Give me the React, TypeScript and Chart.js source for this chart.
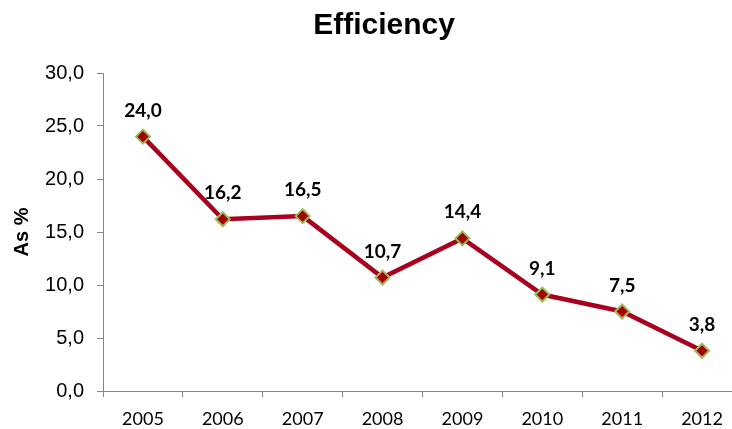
import React, { useEffect, useRef } from "react";
import { Chart, registerables } from "chart.js";

Chart.register(...registerables);

const years = ["2005", "2006", "2007", "2008", "2009", "2010", "2011", "2012"];
const efficiency = [24.0, 16.2, 16.5, 10.7, 14.4, 9.1, 7.5, 3.8];
const yTicks = [0, 5, 10, 15, 20, 25, 30];

const fmt = (v: number) => v.toFixed(1).replace(".", ",");

const valueLabels = {
  id: "valueLabels",
  afterDatasetsDraw(chart: any) {
    const ctx = chart.ctx;
    const meta = chart.getDatasetMeta(0);
    const data = chart.data.datasets[0].data as number[];
    ctx.save();
    ctx.font = "bold 19px Lato";
    ctx.fillStyle = "#000";
    ctx.textAlign = "center";
    ctx.textBaseline = "alphabetic";
    meta.data.forEach((pt: any, i: number) => {
      ctx.fillText(fmt(data[i]), pt.x, pt.y - 20);
    });
    ctx.restore();
  },
};

export default function App() {
  const ref = useRef<HTMLCanvasElement>(null);
  useEffect(() => {
    document.body.style.margin = "0";
    const chart = new Chart(ref.current!, {
      type: "line",
      data: {
        labels: years,
        datasets: [
          {
            data: efficiency,
            borderColor: "#A8001E",
            borderWidth: 4.5,
            pointStyle: "rectRot",
            pointRadius: 7,
            pointBackgroundColor: "#A30000",
            pointBorderColor: "#9BBB59",
            pointBorderWidth: 2,
            tension: 0,
          },
        ],
      },
      options: {
        responsive: false,
        animation: false,
        layout: { padding: { left: 26, right: 24, top: 0, bottom: 0 } },
        plugins: {
          legend: { display: false },
          tooltip: { enabled: false },
          title: {
            display: true,
            text: "Efficiency",
            color: "#000",
            font: { family: "Liberation Sans", size: 30, weight: "bold", lineHeight: 1.2 },
            padding: { top: 8, bottom: 29 },
          },
        },
        scales: {
          x: {
            type: "category",
            offset: true,
            grid: { display: true, drawOnChartArea: false, offset: true, tickLength: 6, color: "#868686" },
            border: { color: "#868686", width: 1 },
            ticks: { color: "#000", font: { family: "Lato", size: 18 }, padding: 11 },
            afterFit(scale: any) {
              scale.height = 38;
            },
          },
          y: {
            min: 0,
            max: 30,
            afterBuildTicks(scale: any) {
              scale.ticks = yTicks.map((v) => ({ value: v }));
            },
            grid: { display: true, drawOnChartArea: false, tickLength: 6, color: "#868686" },
            border: { color: "#868686", width: 1 },
            ticks: {
              color: "#000",
              font: { family: "Liberation Sans", size: 20 },
              padding: 13,
              callback: (v: any) => fmt(Number(v)),
            },
            title: {
              display: true,
              text: "As %",
              color: "#000",
              font: { family: "Liberation Sans", size: 20, weight: "bold", lineHeight: 1.2 },
              padding: { top: -16, bottom: 0 },
            },
            afterFit(scale: any) {
              scale.width = 77;
            },
          },
        },
      },
      plugins: [valueLabels],
    });
    return () => chart.destroy();
  }, []);
  return (
    <div style={{ width: 732, height: 429, overflow: "hidden", background: "#fff" }}>
      <canvas ref={ref} width={766} height={429} style={{ display: "block" }} />
    </div>
  );
}
